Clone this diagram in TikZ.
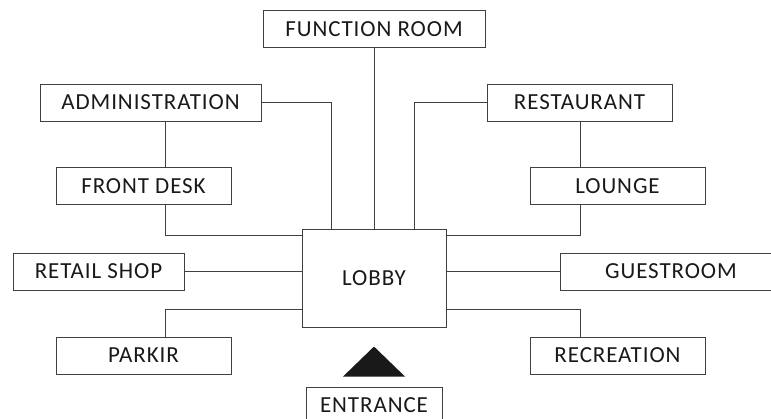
\documentclass[tikz,border=0pt]{standalone}
\usepackage{fontspec}
\setmainfont{Carlito}
\newfontfamily\roomfont[LetterSpace=4]{Carlito}
\usetikzlibrary{calc}
\tikzset{%
  room/.style={draw=black!75, line width=0.9pt, minimum height=37pt, inner sep=0pt,
    text=black!90, font=\roomfont\fontsize{23}{27}\selectfont},
  link/.style={draw=black!75, line width=0.9pt},
}

\begin{document}
\begin{tikzpicture}[x=1pt,y=-1pt]
  \useasboundingbox (0,0) rectangle (771,419);

  \node[room, minimum width=144pt, minimum height=98pt] (lobby) at (374,278.5) {LOBBY};

  \node[room, minimum width=222pt] (func) at (374,29) {FUNCTION ROOM};
  \node[room, minimum width=221pt] (admin) at (150.5,102.5) {ADMINISTRATION};
  \node[room, minimum width=175pt] (desk) at (143.5,186) {FRONT DESK};
  \node[room, minimum width=185pt] (rest) at (579.5,102.5) {RESTAURANT};
  \node[room, minimum width=175pt] (lounge) at (617.5,186) {LOUNGE};
  \node[room, minimum width=171pt] (shop) at (98.5,271.5) {RETAIL SHOP};
  \node[room, minimum width=221pt] (guest) at (671,271.5) {GUESTROOM};
  \node[room, minimum width=175pt] (park) at (143.5,355.5) {PARKIR};
  \node[room, minimum width=175pt] (recr) at (617.5,355.5) {RECREATION};
  \node[room, minimum width=136pt] (entr) at (374,405.5) {ENTRANCE};

  % where the links meet the lobby
  \coordinate (lx) at (165,0);
  \coordinate (rx) at (580,0);
  \coordinate (tl) at ([xshift=30pt]lobby.north west);
  \coordinate (tr) at ([xshift=-32pt]lobby.north east);
  \coordinate (ul) at ([yshift=-6pt]lobby.north west);
  \coordinate (ur) at ([yshift=-6pt]lobby.north east);
  \coordinate (dl) at ([yshift=18pt]lobby.south west);
  \coordinate (dr) at ([yshift=18pt]lobby.south east);

  \draw[link] (func.south) -- (lobby.north);
  \draw[link] (admin.east) -| (tl);
  \draw[link] (rest.west) -| (tr);
  \draw[link] (admin.south -| lx) -- (desk.north -| lx);
  \draw[link] (desk.south -| lx) |- (ul);
  \draw[link] (rest.south -| rx) -- (lounge.north -| rx);
  \draw[link] (lounge.south -| rx) |- (ur);
  \draw[link] (shop.east) -- (shop.east -| lobby.west);
  \draw[link] (guest.west -| lobby.east) -- (guest.west);
  \draw[link] (park.north -| lx) |- (dl);
  \draw[link] (dr) -| (recr.north -| rx);

  % entrance arrow
  \fill[black!90] ([yshift=40pt]entr.north) -- ([xshift=-31pt,yshift=10pt]entr.north)
    -- ([xshift=31pt,yshift=10pt]entr.north) -- cycle;
\end{tikzpicture}
\end{document}
